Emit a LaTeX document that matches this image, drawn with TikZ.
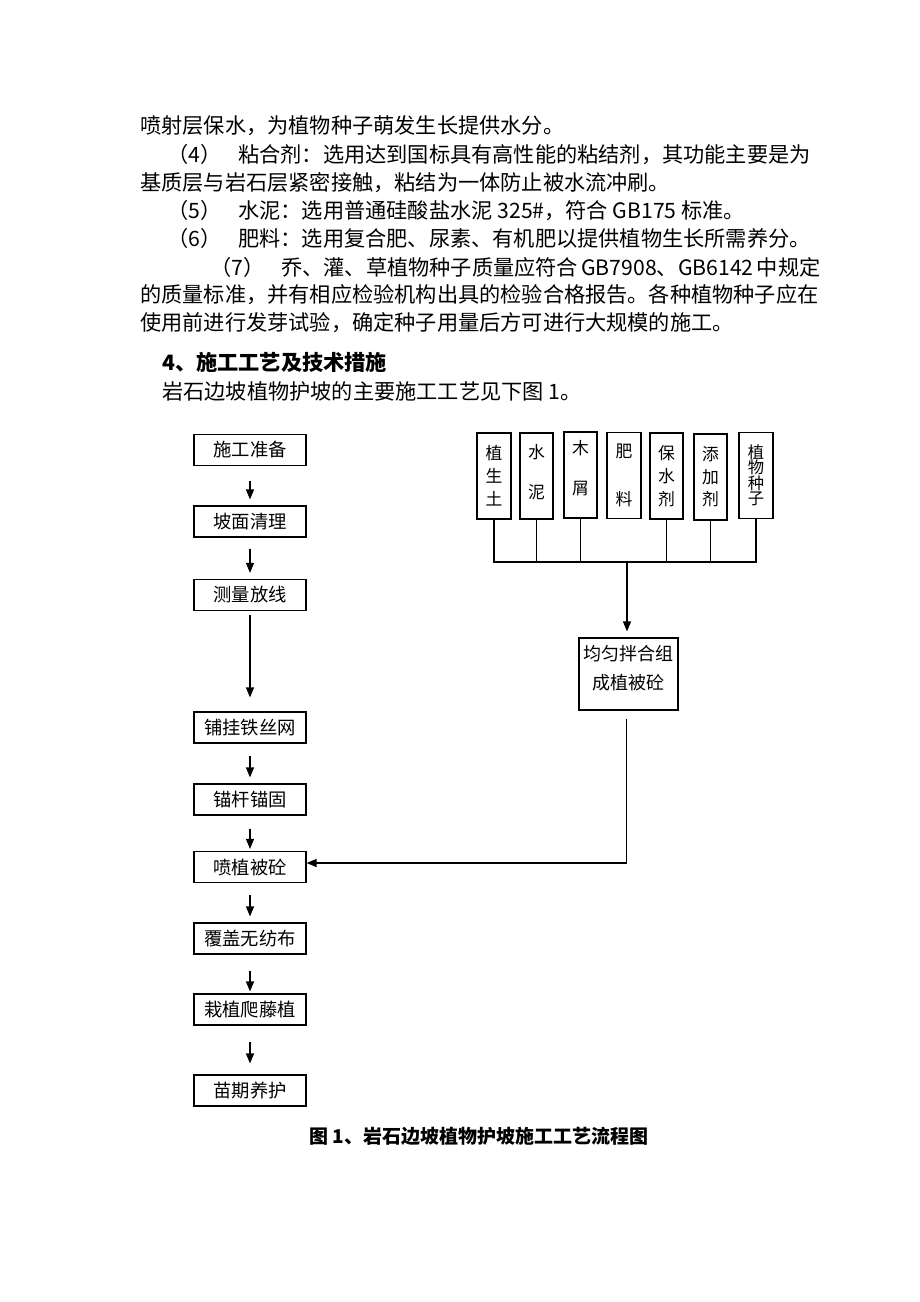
\documentclass[tikz,border=0pt]{standalone}
\usepackage{fontspec}
\setmainfont{Noto Sans CJK SC}
\usetikzlibrary{arrows.meta}
\XeTeXlinebreaklocale "zh"
\XeTeXlinebreakskip=0pt plus 3pt\relax
\newcommand\mytightls{\lineskiplimit=-20pt\relax}
\begin{document}
\begin{tikzpicture}[x=1pt,y=-1pt,
  body/.style={anchor=base west, inner sep=0pt, font=\fontsize{21.2}{24}\selectfont},
  stepbox/.style={draw, line width=1.2pt, minimum width=112pt, minimum height=31pt, inner sep=0pt, font=\fontsize{18.3}{22}\selectfont},
  matbox/.style={draw, line width=1.2pt, minimum width=34pt, minimum height=86pt, inner sep=0pt, align=center},
  arr/.style={-{Triangle[length=10pt,width=8pt]}, line width=1.2pt},
  wire/.style={line width=1.2pt}]
\fill[white] (0,0) rectangle (920,1302);
\useasboundingbox (0,0) rectangle (920,1302);

% body text
\node[body] (t1) at (140,133.5) {喷射层保水，为植物种子萌发生长提供水分。};
\node[body] (t2) at (167,162) {\makebox[650pt][s]{（4）\hspace{0.8em}粘合剂：选用达到国标具有高性能的粘结剂，其功能主要是为}};
\node[body] (t3) at (140,190) {基质层与岩石层紧密接触，粘结为一体防止被水流冲刷。};
\node[body] (t4) at (167,218) {（5）\hspace{0.8em}水泥：选用普通硅酸盐水泥 325\#，符合 GB175 标准。};
\node[body] (t5) at (167,246.5) {（6）\hspace{0.8em}肥料：选用复合肥、尿素、有机肥以提供植物生长所需养分。};
\node[body] (t6) at (210,275) {\makebox[608pt][s]{（7）\hspace{0.8em}乔、灌、草植物种子质量应符合 GB7908、GB6142 中规定}};
\node[body] (t7) at (140,302) {\makebox[678pt][s]{的质量标准，并有相应检验机构出具的检验合格报告。各种植物种子应在}};
\node[body] (t8) at (140,330) {使用前进行发芽试验，确定种子用量后方可进行大规模的施工。};
\node[body, font=\fontsize{21.2}{24}\selectfont\bfseries] (h1) at (162,370) {4、施工工艺及技术措施};
\node[body] (t9) at (162,399) {岩石边坡植物护坡的主要施工工艺见下图 1。};

% left column
\node[stepbox] (s1) at (250,450) {施工准备};
\node[stepbox] (s2) at (250,521.5) {坡面清理};
\node[stepbox] (s3) at (250,595) {测量放线};
\node[stepbox] (s4) at (250,727.5) {铺挂铁丝网};
\node[stepbox] (s5) at (250,799.5) {锚杆锚固};
\node[stepbox] (s6) at (250,867) {喷植被砼};
\node[stepbox] (s7) at (250,938.5) {覆盖无纺布};
\node[stepbox] (s8) at (250,1009.5) {栽植爬藤植};
\node[stepbox] (s9) at (250,1090.5) {苗期养护};

\draw[arr, shorten <=15pt, shorten >=6pt] (s1) -- (s2);
\draw[arr, shorten <=11pt, shorten >=6pt] (s2) -- (s3);
\draw[arr, shorten <=4pt, shorten >=14pt] (s3) -- (s4);
\draw[arr, shorten <=12pt, shorten >=6pt] (s4) -- (s5);
\draw[arr, shorten <=13pt, shorten >=2pt] (s5) -- (s6);
\draw[arr, shorten <=12pt, shorten >=6pt] (s6) -- (s7);
\draw[arr, shorten <=16pt, shorten >=2pt] (s7) -- (s8);
\draw[arr, shorten <=16pt, shorten >=11pt] (s8) -- (s9);

% material boxes
\node[matbox, font=\fontsize{16.8}{23}\selectfont] (m1) at (494,476) {植\\生\\土};
\node[matbox, minimum width=33pt, label={[font=\fontsize{16.8}{40}\selectfont, align=center, yshift=4pt]center:水\\泥}] (m2) at (536.5,476) {};
\node[matbox, minimum width=33pt, label={[font=\fontsize{16.8}{40}\selectfont, align=center, yshift=7pt]center:木\\屑}] (m3) at (580.5,475) {};
\node[matbox, font=\fontsize{16.8}{48}\selectfont] (m4) at (624,475.5) {肥\\料};
\node[matbox, minimum width=33pt, font=\fontsize{16.8}{23}\selectfont] (m5) at (666.5,476) {保\\水\\剂};
\node[matbox, minimum width=33pt, font=\fontsize{16.8}{22.5}\selectfont] (m6) at (710.5,477) {添\\加\\剂};
\node[matbox, font={\fontsize{16.3}{15.5}\selectfont\mytightls}] (m7) at (756,475.5) {植\\物\\种\\子};

\coordinate (bus) at (627,562);
\draw[wire] (m1.south) -- (m1.south |- bus) -- (m7.south |- bus) -- (m7.south);
\foreach \m in {m2,m3,m5,m6} \draw[wire] (\m.south) -- (\m.south |- bus);

\node[draw, line width=1.2pt, minimum width=99pt, minimum height=72pt, inner sep=0pt,
  label={[font=\fontsize{18}{29}\selectfont, align=center, yshift=6pt]center:均匀拌合组\\成植被砼}] (mix) at (628.5,674) {};

\draw[arr, shorten >=6pt] (bus) -- (bus |- mix.north);
\draw[arr] ([yshift=-8pt,xshift=-2pt]mix.south) |- ([yshift=4pt]s6.east);

% caption
\node[anchor=base, inner sep=0pt, font=\fontsize{19}{22}\selectfont\bfseries] (cap) at (479,1143) {图 1、岩石边坡植物护坡施工工艺流程图};
\end{tikzpicture}
\end{document}
